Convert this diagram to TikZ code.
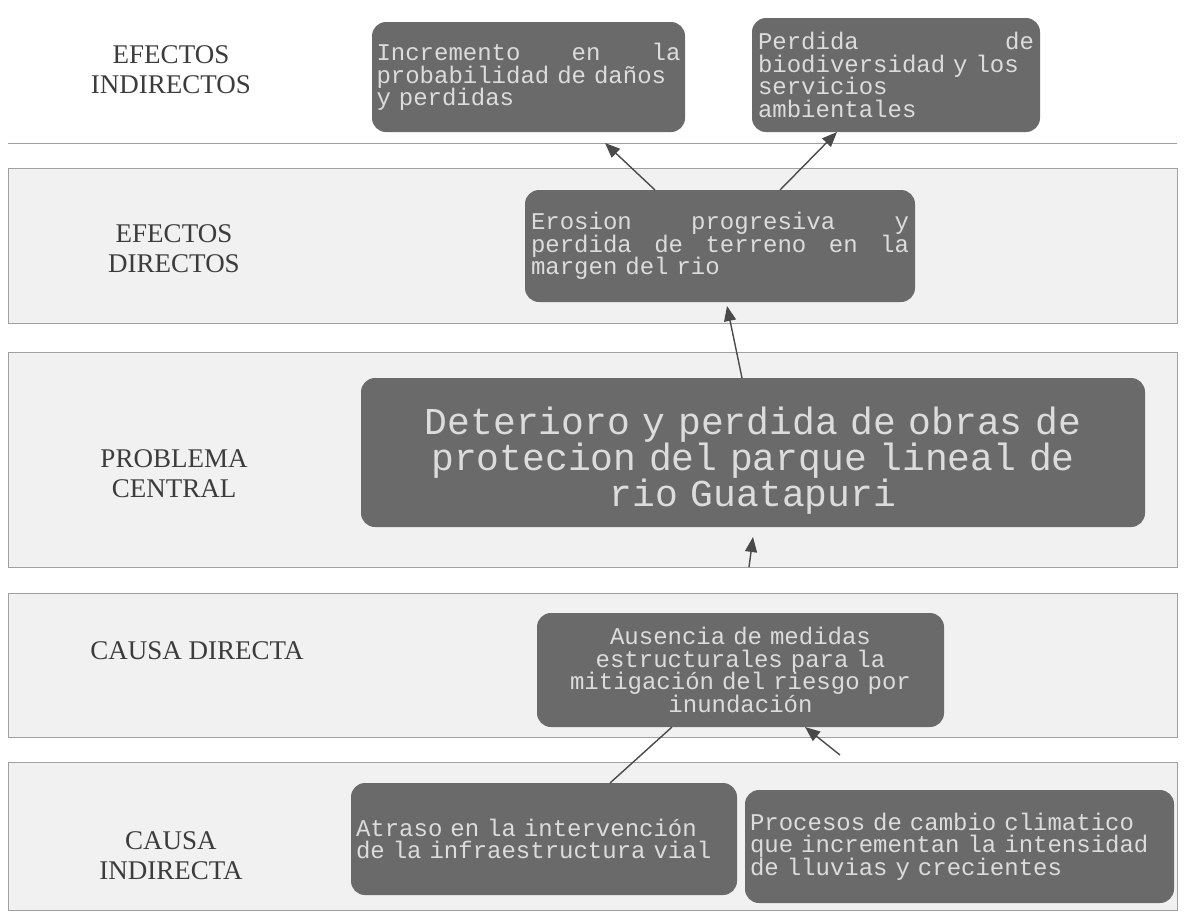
\documentclass[tikz,border=0pt]{standalone}
\usepackage{fontspec}
\setmainfont{Liberation Serif}
\newfontfamily\monofam{Liberation Mono}
\usetikzlibrary{arrows.meta}
\definecolor{boxgray}{HTML}{6A6A6A}
\definecolor{boxtext}{HTML}{DCDCDC}
\definecolor{bandfill}{HTML}{F1F1F1}
\definecolor{bandline}{HTML}{A0A0A0}
\definecolor{labelcol}{HTML}{3C3C3C}
\definecolor{arrowcol}{HTML}{4A4A4A}
\newcommand{\monoset}[2]{\monofam\fontsize{#1}{#2}\selectfont}
\begin{document}
\begin{tikzpicture}[x=1pt,y=-1pt,
  band/.style={draw=bandline, fill=bandfill, line width=0.8pt},
  lab/.style={font=\fontsize{27}{30}\selectfont, text=labelcol, align=center, inner sep=0pt},
  cbox/.style={fill=boxgray, rounded corners=14pt, text=boxtext,
    font=\monoset{24}{22.5}, inner sep=0pt, outer sep=0pt},
  bigbox/.style={cbox, font=\monoset{38}{34}},
  arr/.style={draw=arrowcol, line width=1.4pt, -{Triangle[length=15pt,width=12pt]}},
  conn/.style={draw=arrowcol, line width=1.4pt}]

\useasboundingbox (0,0) rectangle (1186,919);
\fill[white] (0,0) rectangle (1186,919);

% bands
\draw[bandline, line width=0.8pt] (8,143) -- (1177,143);
\draw[band] (8,168) rectangle (1177,323);
\draw[band] (8,352) rectangle (1177,567);
\draw[band] (8,593) rectangle (1177,737);
\draw[band] (8,762) rectangle (1177,910);

% row labels
\node[lab] (lEI) at (171,70)  {EFECTOS\\INDIRECTOS};
\node[lab] (lED) at (174,249) {EFECTOS\\DIRECTOS};
\node[lab] (lPC) at (174,474) {PROBLEMA\\CENTRAL};
\node[lab] (lCD) at (197,651) {CAUSA DIRECTA};
\node[lab] (lCI) at (171,856) {CAUSA\\INDIRECTA};

% boxes
\node[cbox, minimum width=313pt, minimum height=110pt, text width=304pt, align=left]
  (incA) at (528.5,77) {Incremento\hfill en\hfill la\\probabilidad de daños\\y perdidas};
\node[cbox, minimum width=288pt, minimum height=114pt, text width=276pt, align=left]
  (perd) at (896,75) {Perdida\hfill de\\biodiversidad y los\\servicios\\ambientales};
\node[cbox, minimum width=390pt, minimum height=112pt, text width=378pt, align=left]
  (ero) at (720,246) {Erosion\hfill progresiva\hfill y\\perdida\hfill de\hfill terreno\hfill en\hfill la\\margen del rio};
\node[bigbox, minimum width=784pt, minimum height=149pt, text width=760pt, align=center]
  (prob) at (753,452.5) {\rule{0pt}{44pt}Deterioro y perdida de obras de\\protecion del parque lineal de\\rio Guatapuri};
\node[cbox, minimum width=407pt, minimum height=114pt, text width=396pt, align=center]
  (aus) at (740.5,670) {Ausencia de medidas\\estructurales para la\\mitigación del riesgo por\\inundación};
\node[cbox, minimum width=386pt, minimum height=112pt, text width=376pt, align=left]
  (atr) at (544,839) {Atraso en la intervención\\de la infraestructura vial};
\node[cbox, minimum width=429pt, minimum height=113pt, text width=419pt, align=left]
  (proc) at (959.5,846.5) {Procesos de cambio climatico\\que incrementan la intensidad\\de lluvias y crecientes};

% free ends
\coordinate (c4) at (749,567);
\coordinate (c6) at (840,755);

% connectors
\draw[arr] ([xshift=130pt]ero.north west) -- ([xshift=233pt,yshift=-11pt]incA.south west);
\draw[arr] ([xshift=255pt]ero.north west) -- ([xshift=85pt]perd.south west);
\draw[arr] ([xshift=381pt]prob.north west) -- ([xshift=202pt,yshift=-4pt]ero.south west);
\draw[arr] (c4) -- ([xshift=392pt,yshift=-10pt]prob.south west);
\draw[conn] ([xshift=259pt]atr.north west) -- ([xshift=135pt]aus.south west);
\draw[arr] (c6) -- ([xshift=268pt]aus.south west);
\end{tikzpicture}
\end{document}
